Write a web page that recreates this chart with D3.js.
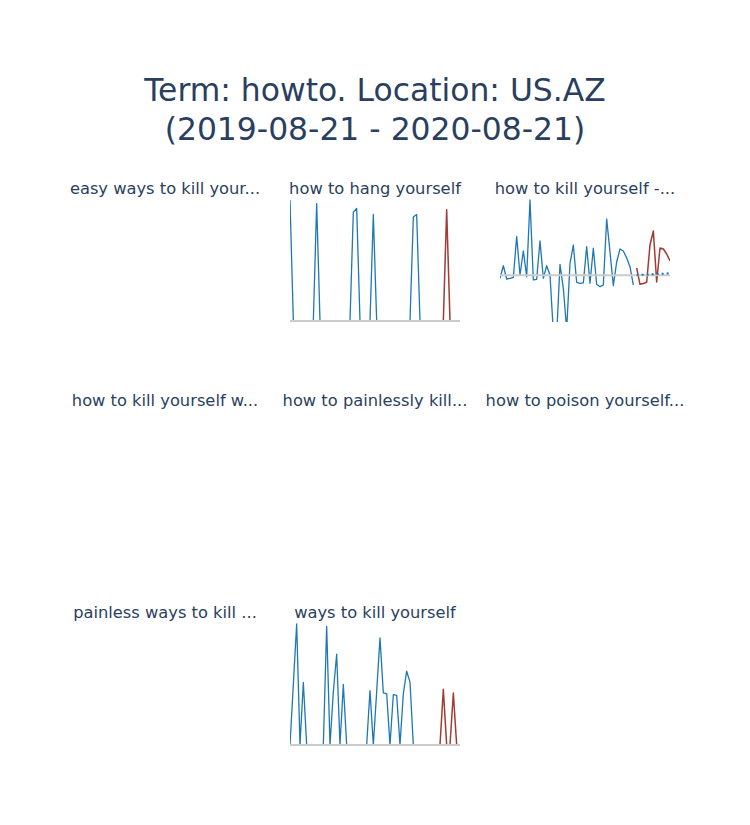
<!DOCTYPE html>
<html>
<head>
<meta charset="utf-8">
<script src="https://cdn.jsdelivr.net/npm/d3@7"></script>
<style>
  html, body { margin: 0; padding: 0; background: #fff; }
  svg { display: block; }
</style>
</head>
<body>
<div id="chart"></div>
<script>
// ---------------- DATA ----------------
const chartTitle = ["Term: howto. Location: US.AZ", "(2019-08-21 - 2020-08-21)"];

const subplotTitles = [
  "easy ways to kill your...", "how to hang yourself", "how to kill yourself -...",
  "how to kill yourself w...", "how to painlessly kill...", "how to poison yourself...",
  "painless ways to kill ...", "ways to kill yourself"
];

// weekly dates (52 weeks)
const weeks = d3.timeWeek.range(new Date(2019, 7, 25), new Date(2020, 7, 17));
const recentStart = 41; // index where the recent (red) series begins

// "how to hang yourself"
const hangObserved = [100,0,0,0,0,0,0,0,97,0, 0,0,0,0,0,0,0,0,0,90,
                      93,0,0,0,0,88,0,0,0,0, 0,0,0,0,0,0,0,86,88,0, 0];
const hangRecent = [0,0,0,0,0,0,92,0,0,0,0];

// "how to kill yourself -..."
const killObserved = [-4.0,12.7,-4.9,-4.2,-2.7,51.3,0.4,32.3,-1.9,100,
                      -6.2,-5.3,45.6,-4.0,12.7,0.4,-75,-80,14.6,-17.3,
                      -72,15.9,40.2,-9.3,-10.6,-10.2,38.0,-10.6,35.9,-12.0,
                      -15.1,-12.9,74.8,30.9,-13.8,17.7,34.9,32.3,23.0,11.4,
                      -12.9];
const killRecent = [9.7,-12.0,-10.9,-9.3,40.2,58.8,-8.9,36.3,34.9,28.3,19.0];
const killTrend = [0.4,0.6,0.8,1.0,1.2,1.5,1.7,1.9,2.2,2.4,2.7];
const killRange = [-60.7, 100];

// "ways to kill yourself"
const waysObserved = [0,50,100,0,51.7,0,0,0,0,0, 0,98,0,44,75,0,50,0,0,0,
                      0,0,0,0,45,0,44,88.6,43,42.5, 0,41.7,41,0,42.5,61,52,0,0,0, 0];
const waysRecent = [0,0,0,0,0,46,0,0,43,0,0];

// panel index -> series (empty panels have none)
const panelSeries = {
  1: {observed: hangObserved, recent: hangRecent},
  2: {observed: killObserved, recent: killRecent, trend: killTrend, range: killRange},
  7: {observed: waysObserved, recent: waysRecent}
};

// ---------------- LAYOUT ----------------
const W = 750, H = 825;
const gridLeft = 80, gridTop = 200, colW = 170, colGap = 40, rowH = 121, rowGap = 91;
const font = "'DejaVu Sans', Verdana, sans-serif";
const textColor = "#2a3f5f";
const blue = "#1f77b4", red = "#a23c33", gray = "#cbcbcb";

const svg = d3.select("#chart").append("svg")
  .attr("width", W).attr("height", H)
  .style("font-family", font);

svg.append("rect").attr("width", W).attr("height", H).attr("fill", "#fff");

const title = svg.append("text")
  .attr("text-anchor", "middle")
  .attr("fill", textColor)
  .style("font-size", "31.4px");
title.append("tspan").attr("x", W / 2).attr("y", 101).text(chartTitle[0]);
title.append("tspan").attr("x", W / 2).attr("y", 140).text(chartTitle[1]);

const defs = svg.append("defs");

subplotTitles.forEach((t, k) => {
  const col = k % 3, row = Math.floor(k / 3);
  const x0 = gridLeft + col * (colW + colGap);
  const y0 = gridTop + row * (rowH + rowGap);

  svg.append("text")
    .attr("x", x0 + colW / 2)
    .attr("y", y0 - 6)
    .attr("text-anchor", "middle")
    .attr("fill", textColor)
    .style("font-size", "16.3px")
    .text(t);

  const s = panelSeries[k];
  if (!s) return;

  const x = d3.scaleTime().domain(d3.extent(weeks)).range([x0, x0 + colW]);
  const all = s.observed.concat(s.recent);
  const y = d3.scaleLinear()
    .domain(s.range || [0, d3.max(all)])
    .range([y0 + rowH, y0]);

  const clipId = "clip" + k;
  defs.append("clipPath").attr("id", clipId)
    .append("rect").attr("x", x0).attr("y", y0 - 1).attr("width", colW).attr("height", rowH + 2);

  const g = svg.append("g").attr("clip-path", `url(#${clipId})`);

  const lineObs = d3.line().x((d, i) => x(weeks[i])).y(d => y(d));
  const lineRec = d3.line().x((d, i) => x(weeks[recentStart + i])).y(d => y(d));

  g.append("path").datum(s.observed).attr("d", lineObs)
    .attr("fill", "none").attr("stroke", blue).attr("stroke-width", 1.3)
    .attr("stroke-linejoin", "round");

  g.append("path").datum(s.recent).attr("d", lineRec)
    .attr("fill", "none").attr("stroke", red).attr("stroke-width", 1.5)
    .attr("stroke-linejoin", "round");

  // zero line drawn over the series
  g.append("line")
    .attr("x1", x0).attr("x2", x0 + colW)
    .attr("y1", y(0)).attr("y2", y(0))
    .attr("stroke", gray).attr("stroke-width", 2);

  if (s.trend) {
    g.append("path").datum(s.trend).attr("d", lineRec)
      .attr("fill", "none").attr("stroke", blue).attr("stroke-width", 2)
      .attr("stroke-dasharray", "2,3");
  }
});
</script>
</body>
</html>
